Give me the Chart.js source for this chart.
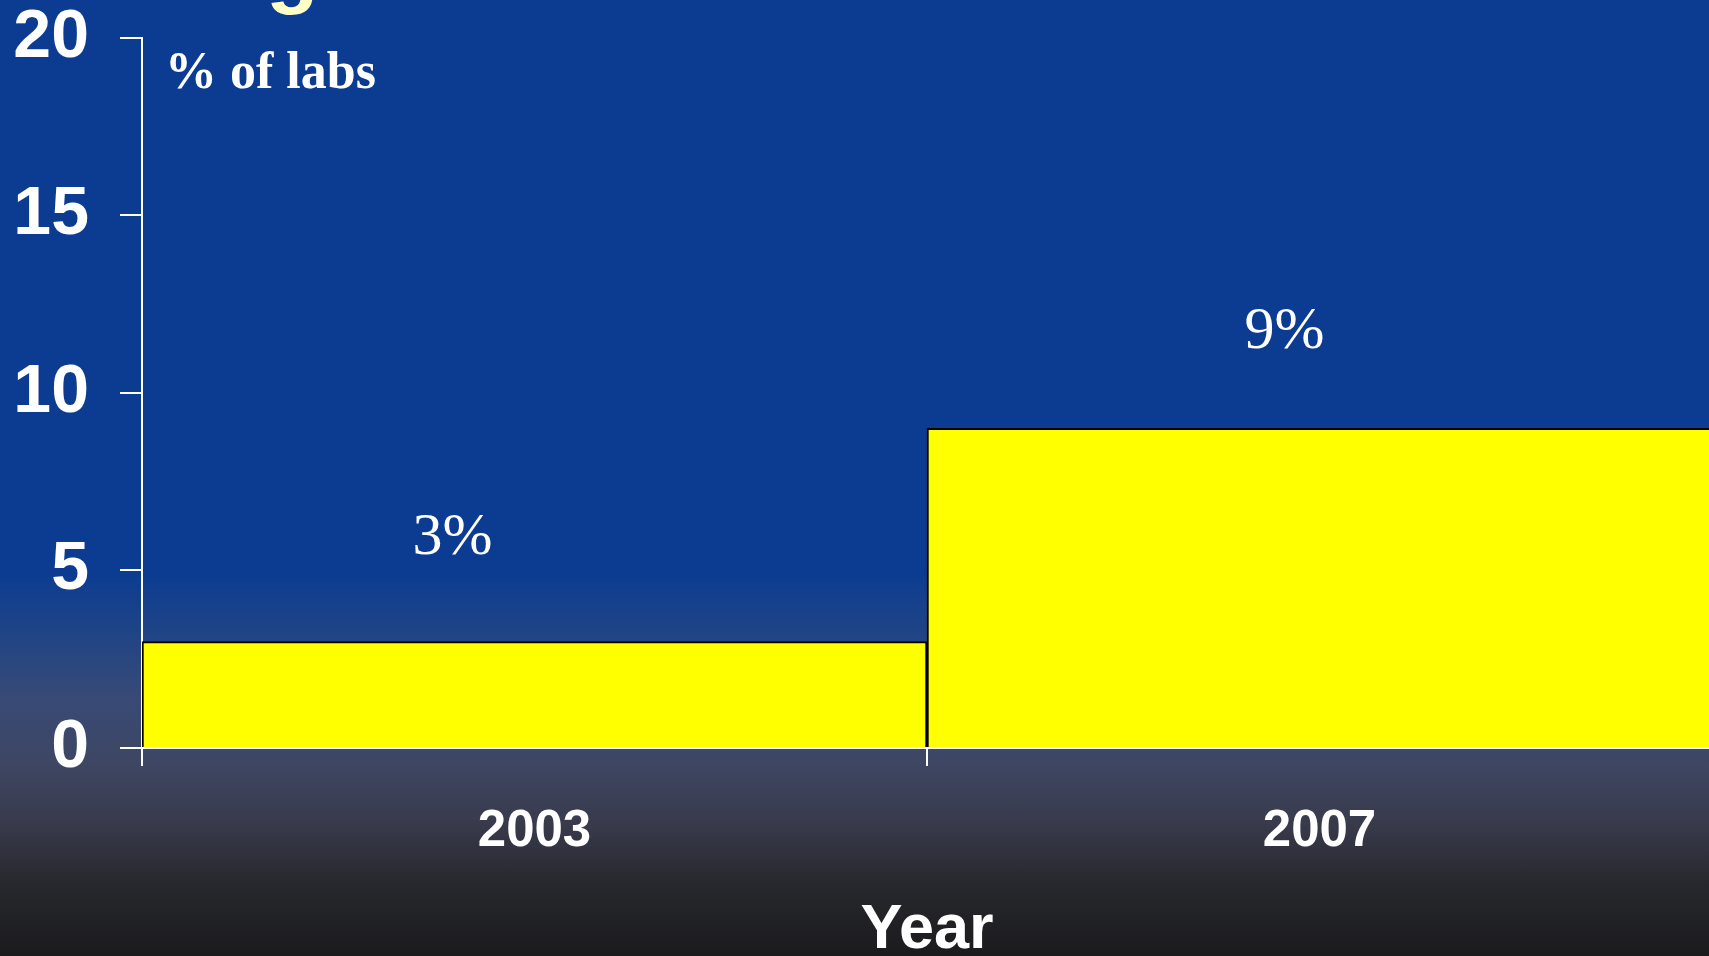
<!DOCTYPE html>
<html>
<head>
<meta charset="utf-8">
<script src="https://cdn.jsdelivr.net/npm/chart.js@4.4.0/dist/chart.umd.min.js"></script>
<style>
  html, body {
    margin: 0;
    padding: 0;
    width: 1709px;
    height: 956px;
    overflow: hidden;
    background: linear-gradient(to bottom,
      #0c3c91 0%, #0c3c91 60%, #1f4486 66%, #384a76 73%,
      #3e4662 80%, #393b4d 86%, #28292f 92%, #1b1b1d 100%);
  }
  canvas { display: block; }
</style>
</head>
<body>
<canvas id="myChart" width="1712" height="956"></canvas>
<script>
// Datos de la gráfica
const years = ['2003', '2007'];
const labsPercent = [3, 9];
const yTicks = [0, 5, 10, 15, 20];

// Desplazamiento de las etiquetas de valor respecto al centro de cada barra
const valueLabelShift = [{ dx: -82, dy: -103 }, { dx: -35, dy: -96 }];

const sans = '"Liberation Sans", Arial, sans-serif';
const serif = '"Liberation Serif", "Times New Roman", serif';

// Textos dibujados a mano: título recortado, unidad y valores sobre las barras
const textPlugin = {
    id: 'textos',
    afterDraw(chart) {
        const ctx = chart.ctx;
        const area = chart.chartArea;
        ctx.save();

        // resto del título que queda fuera por arriba
        ctx.fillStyle = '#ffffc6';
        ctx.font = 'bold 86px ' + sans;
        ctx.textAlign = 'left';
        ctx.textBaseline = 'alphabetic';
        ctx.fillText('g', 266, -3);

        // unidad del eje
        ctx.fillStyle = '#ffffff';
        ctx.font = 'bold 52px ' + serif;
        ctx.fillText('% of labs', area.left + 23, area.top + 50);

        // etiquetas de valor
        ctx.font = '60px ' + serif;
        ctx.textAlign = 'center';
        ctx.textBaseline = 'middle';
        const meta = chart.getDatasetMeta(0);
        meta.data.forEach((bar, i) => {
            const s = valueLabelShift[i];
            ctx.fillText(labsPercent[i] + '%', bar.x + s.dx, bar.y + s.dy);
        });
        ctx.restore();
    }
};

const ctx = document.getElementById('myChart').getContext('2d');
const chart = new Chart(ctx, {
    type: 'bar',
    data: {
        labels: years,
        datasets: [{
            data: labsPercent,
            backgroundColor: '#ffff00',
            borderColor: '#000000',
            borderWidth: 2,
            barPercentage: 1,
            categoryPercentage: 1
        }]
    },
    options: {
        responsive: false,
        animation: false,
        layout: { padding: { top: 29, right: 0, left: 0, bottom: 0 } },
        plugins: {
            legend: { display: false },
            tooltip: { enabled: false }
        },
        scales: {
            x: {
                grid: {
                    offset: true,
                    drawOnChartArea: false,
                    color: '#ffffff',
                    lineWidth: 2,
                    tickLength: 18
                },
                border: { color: '#ffffff', width: 2 },
                ticks: {
                    color: '#ffffff',
                    font: { family: sans, size: 51, weight: 'bold', lineHeight: 1 },
                    padding: 40,
                    maxRotation: 0
                },
                title: {
                    display: true,
                    text: 'Year',
                    color: '#ffffff',
                    font: { family: sans, size: 63, weight: 'bold', lineHeight: 1 },
                    padding: { top: 0, bottom: -6 }
                },
                afterFit(scale) { scale.height = 208; }
            },
            y: {
                min: 0,
                max: 20,
                afterBuildTicks(scale) {
                    scale.ticks = yTicks.map(v => ({ value: v }));
                },
                grid: {
                    drawOnChartArea: false,
                    color: '#ffffff',
                    lineWidth: 2,
                    tickLength: 22
                },
                border: { color: '#ffffff', width: 2 },
                ticks: {
                    color: '#ffffff',
                    font: { family: sans, size: 68, weight: 'bold', lineHeight: 0.2 },
                    padding: 31
                },
                afterFit(scale) { scale.width = 142; }
            }
        }
    },
    plugins: [textPlugin]
});
</script>
</body>
</html>
